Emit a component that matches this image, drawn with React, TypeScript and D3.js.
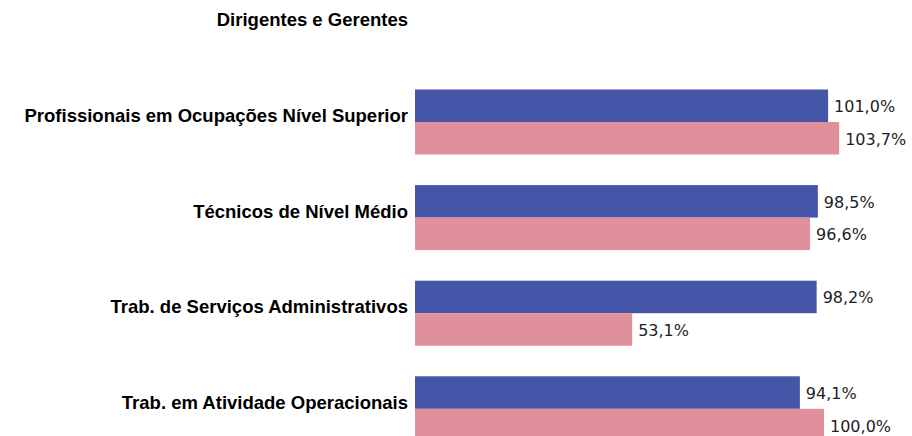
import React from "react";
import * as d3 from "d3";

const categories = [
  "Dirigentes e Gerentes",
  "Profissionais em Ocupações Nível Superior",
  "Técnicos de Nível Médio",
  "Trab. de Serviços Administrativos",
  "Trab. em Atividade Operacionais",
];
const seriesBlue: (number | null)[] = [null, 101.0, 98.5, 98.2, 94.1];
const seriesPink: (number | null)[] = [null, 103.7, 96.6, 53.1, 100.0];
const seriesKeys = ["blue", "pink"];
const colors = ["#4555a8", "#e0909b"];

const W = 912;
const H = 436;

const fmt = (v: number) => v.toFixed(1).replace(".", ",") + "%";

export default function App() {
  const step = 95.6;
  const y0 = 122 - step * 1.5;
  const y = d3
    .scaleBand<string>()
    .domain(categories)
    .range([y0, y0 + step * categories.length])
    .paddingInner(0.32)
    .paddingOuter(0.16);
  const inner = d3
    .scaleBand<string>()
    .domain(seriesKeys)
    .range([0, y.bandwidth()])
    .padding(0);
  const x = d3.scaleLinear().domain([0, 100]).range([415, 824]);

  const series = [seriesBlue, seriesPink];

  return (
    <svg
      width={W}
      height={H}
      style={{ position: "absolute", left: 0, top: 0, background: "#fff" }}
    >
      {categories.map((c, i) => {
        const center = (y(c) as number) + y.bandwidth() / 2;
        return (
          <g key={c}>
            <text
              x={408}
              y={center}
              textAnchor="end"
              fontFamily="'Liberation Sans', Arial, sans-serif"
              fontWeight="bold"
              fontSize={18.5}
              fill="#000"
            >
              {c}
            </text>
            {series.map((s, si) => {
              const v = s[i];
              if (v == null) return null;
              const by = (y(c) as number) + (inner(seriesKeys[si]) as number);
              const bh = inner.bandwidth();
              return (
                <g key={si}>
                  <rect
                    x={x(0)}
                    y={by}
                    width={x(v) - x(0)}
                    height={bh}
                    fill={colors[si]}
                  />
                  <text
                    x={x(v) + 6}
                    y={by + bh / 2 + 6.5}
                    fontFamily="'DejaVu Sans', Verdana, sans-serif"
                    fontSize={16}
                    fill="#1e1e1e"
                  >
                    {fmt(v)}
                  </text>
                </g>
              );
            })}
          </g>
        );
      })}
    </svg>
  );
}
